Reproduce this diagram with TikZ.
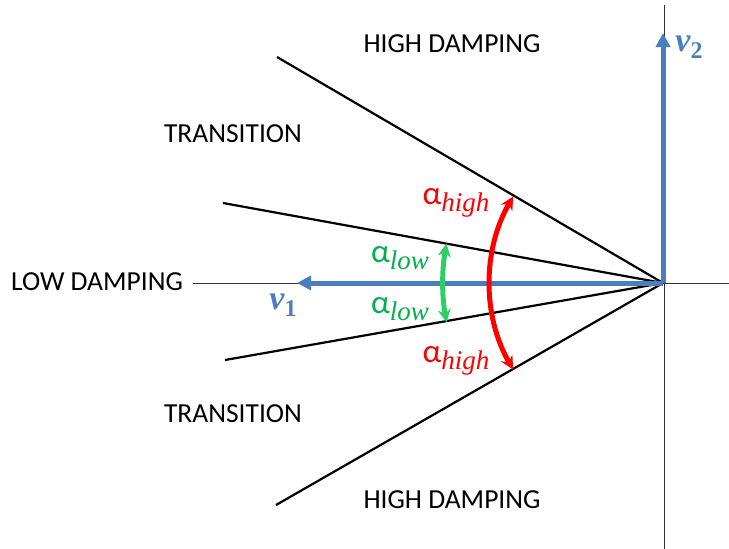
\documentclass[tikz,border=0pt]{standalone}
\usepackage{fontspec}
\setmainfont{Carlito}
\newfontfamily\serifx{Liberation Serif}
\usetikzlibrary{arrows.meta}
\definecolor{vblue}{RGB}{74,126,190}
\definecolor{agreen}{RGB}{46,206,100}
\definecolor{tgreen}{RGB}{0,176,80}
\definecolor{ared}{RGB}{255,0,0}
\newcommand{\alab}[1]{α\raisebox{-7pt}{\fontsize{27}{30}\selectfont\serifx\itshape #1}}
\newcommand{\vlab}[1]{{\serifx\bfseries\itshape v}\raisebox{-7pt}{\fontsize{24}{28}\selectfont\serifx\bfseries #1}}
\begin{document}
\begin{tikzpicture}[x=1pt,y=-1pt,
  region/.style={font=\fontsize{27.5}{30}\selectfont, text=black, inner sep=0pt},
  sector/.style={line width=2.2pt, black},
  axisline/.style={line width=0.9pt, black!80},
  vec/.style={line width=5pt, vblue, -{Triangle[length=14pt,width=14pt]}},
  vlabel/.style={text=vblue, font=\fontsize{34}{38}\selectfont, inner sep=0pt},
  alabel/.style={font=\fontsize{33}{38}\selectfont, inner sep=0pt}]
\useasboundingbox (0,0) rectangle (729,549);
\coordinate (O) at (663,283);
\coordinate (xl) at (193,283);
\coordinate (xr) at (729,283);
\coordinate (yt) at (664,5);
\coordinate (yb) at (664,549);
\draw[axisline] (xl) -- (xr);
\draw[axisline] (yt) -- (yb);
\coordinate (hu) at (277,57);
\coordinate (tu) at (223,203);
\coordinate (tl) at (225,360);
\coordinate (hl) at (276,505);
\draw[sector] (O) -- (hu);
\draw[sector] (O) -- (tu);
\draw[sector] (O) -- (tl);
\draw[sector] (O) -- (hl);
\coordinate (v1) at (297,283);
\coordinate (v2) at (663,33);
\draw[vec] (O) -- (v1);
\draw[vec] (O) -- (v2);
\node[vlabel] (v1l) at (283,305) {\vlab{1}};
\node[vlabel] (v2l) at (689,47) {\vlab{2}};
% red arc
\draw[ared, line width=5pt, {Stealth[length=13pt,width=13pt]}-{Stealth[length=13pt,width=13pt]}]
  ([shift={(150:173)}]O) arc[start angle=150, end angle=210, radius=173];
\draw[agreen, line width=5pt, {Stealth[length=13pt,width=13pt]}-{Stealth[length=13pt,width=13pt]}]
  ([shift={(169.7:220)}]O) arc[start angle=169.7, end angle=190.3, radius=220];
\node[alabel, text=ared] (ah1) at (456,203) {\alab{high}};
\node[alabel, text=ared] (ah2) at (456,361) {\alab{high}};
\node[alabel, text=tgreen] (al1) at (400,258) {\alab{low}};
\node[alabel, text=tgreen] (al2) at (400,309) {\alab{low}};
\node[region] (r1) at (452,44) {HIGH DAMPING};
\node[region] (r2) at (233,134) {TRANSITION};
\node[region] (r3) at (97,282) {LOW DAMPING};
\node[region] (r4) at (233,414) {TRANSITION};
\node[region] (r5) at (452,500) {HIGH DAMPING};
\end{tikzpicture}
\end{document}
